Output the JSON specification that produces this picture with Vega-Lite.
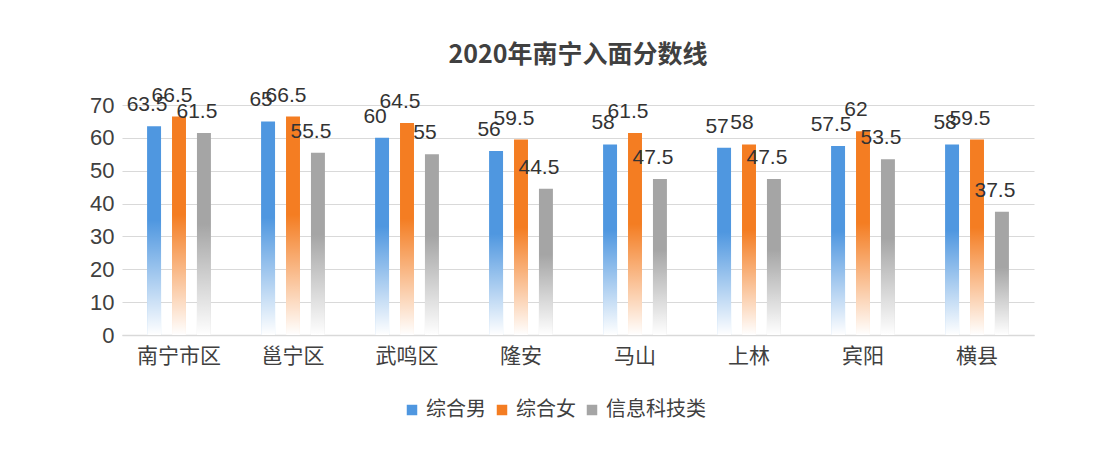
{
  "$schema": "https://vega.github.io/schema/vega-lite/v6.json",
  "width": 912,
  "height": 230,
  "autosize": {"type": "none"},
  "padding": {"left": 122, "top": 105, "right": 82, "bottom": 137},
  "background": "white",
  "title": {
    "text": "2020年南宁入面分数线",
    "fontSize": 25,
    "fontWeight": "bold",
    "color": "#404040",
    "font": "Noto Sans CJK SC",
    "anchor": "middle",
    "offset": 17
  },
  "data": {
    "values": [
      {"district": "南宁市区", "type": "综合男", "value": 63.5},
      {"district": "南宁市区", "type": "综合女", "value": 66.5},
      {"district": "南宁市区", "type": "信息科技类", "value": 61.5},
      {"district": "邕宁区", "type": "综合男", "value": 65},
      {"district": "邕宁区", "type": "综合女", "value": 66.5},
      {"district": "邕宁区", "type": "信息科技类", "value": 55.5},
      {"district": "武鸣区", "type": "综合男", "value": 60},
      {"district": "武鸣区", "type": "综合女", "value": 64.5},
      {"district": "武鸣区", "type": "信息科技类", "value": 55},
      {"district": "隆安", "type": "综合男", "value": 56},
      {"district": "隆安", "type": "综合女", "value": 59.5},
      {"district": "隆安", "type": "信息科技类", "value": 44.5},
      {"district": "马山", "type": "综合男", "value": 58},
      {"district": "马山", "type": "综合女", "value": 61.5},
      {"district": "马山", "type": "信息科技类", "value": 47.5},
      {"district": "上林", "type": "综合男", "value": 57},
      {"district": "上林", "type": "综合女", "value": 58},
      {"district": "上林", "type": "信息科技类", "value": 47.5},
      {"district": "宾阳", "type": "综合男", "value": 57.5},
      {"district": "宾阳", "type": "综合女", "value": 62},
      {"district": "宾阳", "type": "信息科技类", "value": 53.5},
      {"district": "横县", "type": "综合男", "value": 58},
      {"district": "横县", "type": "综合女", "value": 59.5},
      {"district": "横县", "type": "信息科技类", "value": 37.5}
    ]
  },
  "encoding": {
    "x": {
      "field": "district",
      "type": "nominal",
      "sort": ["南宁市区", "邕宁区", "武鸣区", "隆安", "马山", "上林", "宾阳", "横县"],
      "scale": {"paddingInner": 0.44, "paddingOuter": 0.22},
      "axis": {
        "title": null,
        "labelAngle": 0,
        "labelFontSize": 21,
        "labelColor": "#404040",
        "labelFont": "Noto Sans CJK SC",
        "labelPadding": 10,
        "ticks": false,
        "domainColor": "#d9d9d9",
        "domainWidth": 1.5
      }
    },
    "xOffset": {
      "field": "type",
      "type": "nominal",
      "sort": ["综合男", "综合女", "信息科技类"],
      "scale": {"paddingInner": 0.44, "paddingOuter": 0}
    },
    "y": {
      "field": "value",
      "type": "quantitative",
      "scale": {"domain": [0, 70], "nice": false},
      "axis": {
        "title": null,
        "values": [0, 10, 20, 30, 40, 50, 60, 70],
        "labelFontSize": 22,
        "labelColor": "#404040",
        "labelFont": "Liberation Sans",
        "labelPadding": 8,
        "ticks": false,
        "domain": false,
        "gridColor": "#d9d9d9",
        "gridWidth": 1.2
      }
    }
  },
  "layer": [
    {
      "mark": {"type": "bar"},
      "encoding": {
        "color": {
          "field": "type",
          "type": "nominal",
          "sort": ["综合男", "综合女", "信息科技类"],
          "scale": {
            "domain": ["综合男", "综合女", "信息科技类"],
            "range": ["#4f97e0", "#f47d22", "#a5a5a5"]
          },
          "legend": {
            "title": null,
            "orient": "none",
            "legendX": 280,
            "legendY": 295,
            "direction": "horizontal",
            "symbolType": "square",
            "symbolSize": 110,
            "labelFontSize": 20,
            "labelFont": "Noto Sans CJK SC",
            "labelColor": "#404040",
            "columnPadding": 6,
            "labelOffset": 4
          }
        }
      }
    },
    {
      "mark": {
        "type": "bar",
        "fill": {
          "gradient": "linear",
          "x1": 0, "y1": 0, "x2": 0, "y2": 1,
          "stops": [
            {"offset": 0, "color": "rgba(255,255,255,0)"},
            {"offset": 0.45, "color": "rgba(255,255,255,0)"},
            {"offset": 1, "color": "rgba(255,255,255,1)"}
          ]
        }
      },
      "encoding": {}
    },
    {
      "mark": {
        "type": "text",
        "fontSize": 21,
        "font": "Liberation Sans",
        "color": "#333333",
        "baseline": "alphabetic",
        "dy": -15,
        "dx": -7
      },
      "encoding": {
        "text": {"field": "value", "type": "quantitative"}
      }
    }
  ],
  "config": {
    "view": {"stroke": null}
  }
}
